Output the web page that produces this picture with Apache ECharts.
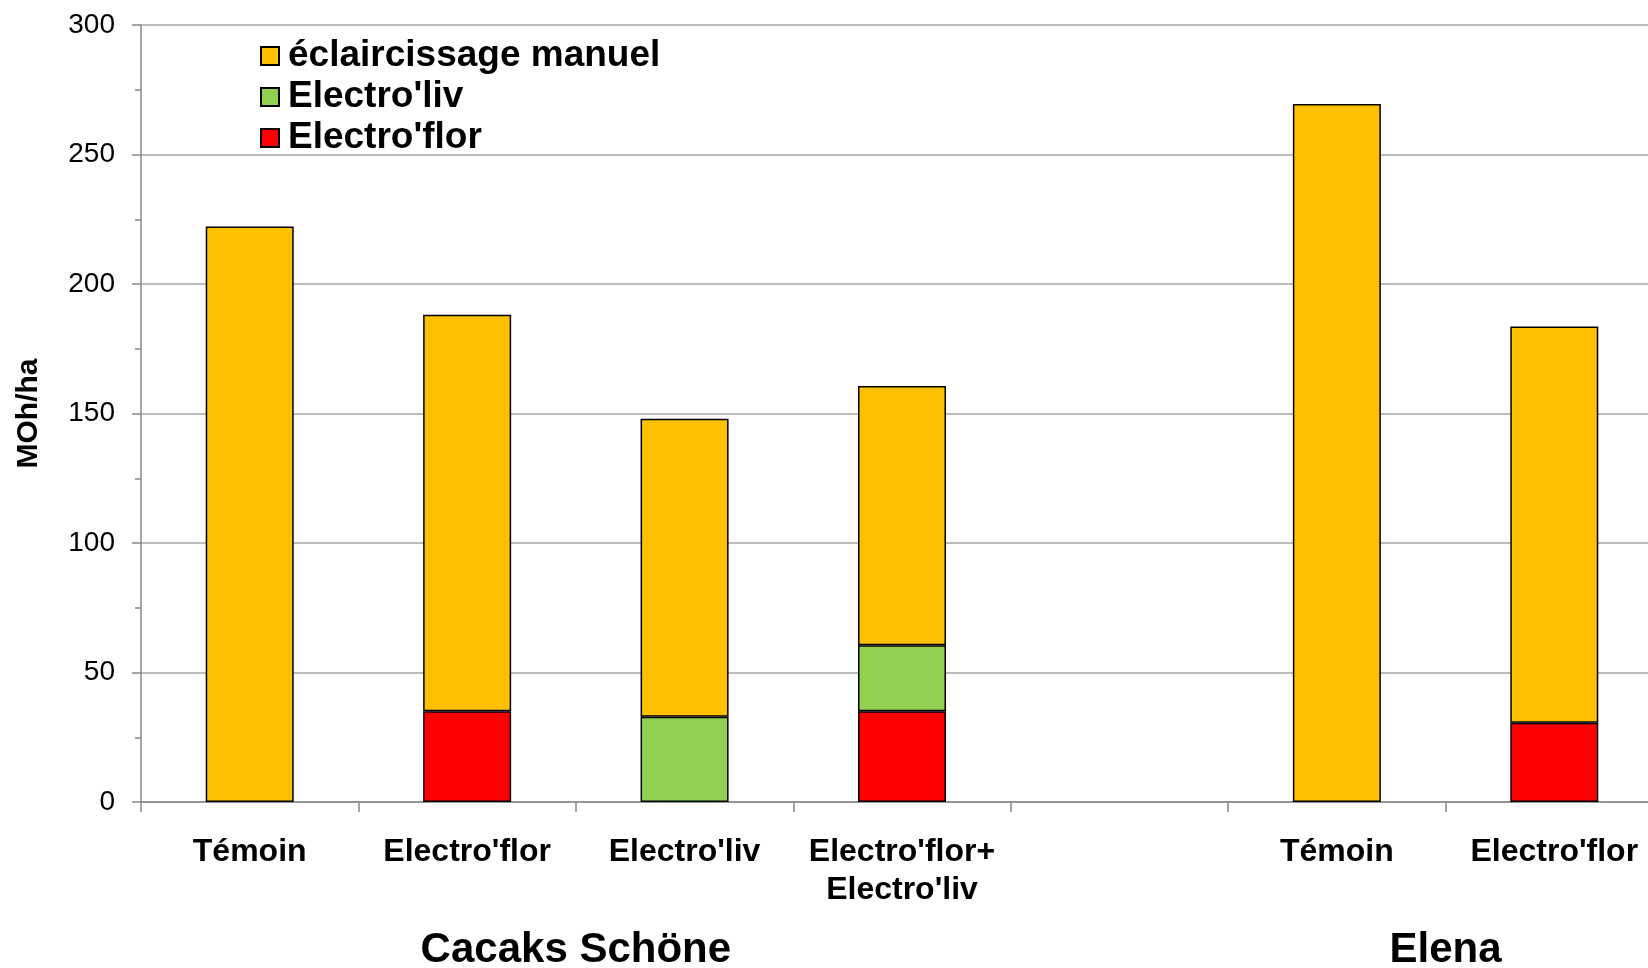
<!DOCTYPE html>
<html>
<head>
<meta charset="utf-8">
<script src="https://cdn.jsdelivr.net/npm/echarts@6/dist/echarts.min.js"></script>
<style>
  html, body { margin: 0; padding: 0; background: #fff; overflow: hidden; }
  #chart { width: 1648px; height: 968px; }
</style>
</head>
<body>
<div id="chart"></div>
<script>
// Treatments on the x axis (blank slot separates the two varieties)
const categories = ['Témoin', "Electro'flor", "Electro'liv", "Electro'flor+\nElectro'liv", '', 'Témoin', "Electro'flor"];
// Varieties and the category indices they span
const groups = ['Cacaks Schöne', 'Elena'];
const groupSpans = [[0, 3], [5, 6]];
// Stacked components (MOh/ha)
const electroFlor = [null, 35.0, null, 35.0, null, null, 30.6];
const electroLiv = [null, null, 32.9, 25.5, null, null, null];
const manuel = [222.2, 153.1, 115.1, 100.1, null, 269.5, 153.0];
// Y-axis ticks
const yMin = 0, yMax = 300, yStep = 50;

const FONT = '"Liberation Sans", Arial, sans-serif';
const chart = echarts.init(document.getElementById('chart'));

const barStyle = (color) => ({ color: color, borderColor: '#000', borderWidth: 1.5 });

chart.setOption({
  animation: false,
  backgroundColor: '#fff',
  // the plot runs a little past the right edge of the canvas
  grid: { left: 141, top: 25, bottom: 166, width: 1522, outerBoundsMode: 'none', containLabel: false },
  legend: {
    data: ['éclaircissage manuel', "Electro'liv", "Electro'flor"],
    orient: 'vertical',
    left: 255,
    top: 31,
    itemWidth: 18,
    itemHeight: 18,
    itemGap: 1,
    icon: 'rect',
    textStyle: { fontFamily: FONT, fontWeight: 'bold', fontSize: 37, lineHeight: 40, color: '#000', padding: [0, 0, 0, 4] }
  },
  xAxis: {
    type: 'category',
    data: categories,
    axisLine: { lineStyle: { color: '#888', width: 1.5 } },
    axisTick: { show: true, length: 10, lineStyle: { color: '#888', width: 1.5 } },
    axisLabel: {
      interval: 0,
      margin: 31,
      hideOverlap: false,
      fontFamily: FONT, fontWeight: 'bold', fontSize: 32, lineHeight: 38, color: '#000'
    }
  },
  yAxis: {
    type: 'value',
    min: yMin, max: yMax, interval: yStep,
    name: 'MOh/ha',
    nameLocation: 'middle',
    nameGap: 97,
    nameRotate: 90,
    nameTextStyle: { fontFamily: FONT, fontWeight: 'bold', fontSize: 30, color: '#000' },
    axisLine: { show: true, lineStyle: { color: '#888', width: 1.5 } },
    axisTick: { show: true, length: 9, lineStyle: { color: '#888', width: 1.5 } },
    minorTick: { show: true, splitNumber: 2, length: 6, lineStyle: { color: '#888', width: 1.5 } },
    splitLine: { show: true, lineStyle: { color: '#a6a6a6', width: 1.5 } },
    axisLabel: { margin: 26, fontFamily: FONT, fontSize: 28, color: '#000' }
  },
  series: [
    { name: "Electro'flor", type: 'bar', stack: 'total', data: electroFlor, barWidth: 88, itemStyle: barStyle('#FF0000') },
    { name: "Electro'liv", type: 'bar', stack: 'total', data: electroLiv, barWidth: 88, itemStyle: barStyle('#92D050') },
    { name: 'éclaircissage manuel', type: 'bar', stack: 'total', data: manuel, barWidth: 88, itemStyle: barStyle('#FFC000') }
  ]
});

// Variety names centred under their group of categories
function placeGroups() {
  const step = chart.convertToPixel({ xAxisIndex: 0 }, 1) - chart.convertToPixel({ xAxisIndex: 0 }, 0);
  const y0 = chart.convertToPixel({ yAxisIndex: 0 }, 0);
  const elements = groups.map((g, i) => {
    const a = chart.convertToPixel({ xAxisIndex: 0 }, groupSpans[i][0]) - step / 2;
    const b = chart.convertToPixel({ xAxisIndex: 0 }, groupSpans[i][1]) + step / 2;
    return {
      type: 'text',
      x: (a + b) / 2,
      y: y0 + 148,
      style: {
        text: g, fill: '#000', font: 'bold 42px ' + FONT,
        align: 'center', verticalAlign: 'middle'
      }
    };
  });
  chart.setOption({ graphic: elements });
}
placeGroups();
</script>
</body>
</html>
